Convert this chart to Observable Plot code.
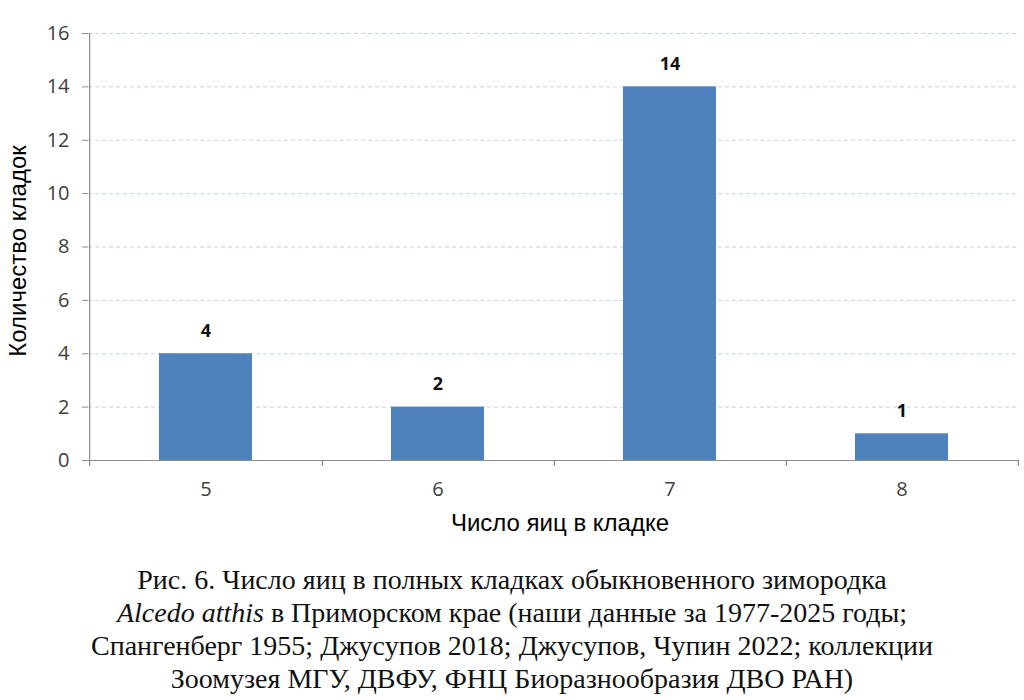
<!DOCTYPE html>
<html>
<head>
<meta charset="utf-8">
<script src="https://cdn.jsdelivr.net/npm/d3@7"></script>
<script src="https://cdn.jsdelivr.net/npm/@observablehq/plot@0.6"></script>
<style>
  body { margin: 0; background: #fff; }
  #chart svg { display: block; }
  #caption {
    font-family: "Liberation Serif", "DejaVu Serif", serif;
    font-size: 28px;
    line-height: 33px;
    text-align: center;
    color: #111;
    padding-top: 18px;
    width: 1024px;
  }
</style>
</head>
<body>
<div id="chart"></div>
<div id="caption">Рис. 6. Число яиц в полных кладках обыкновенного зимородка<br><i>Alcedo atthis</i> в Приморском крае (наши данные за 1977-2025 годы;<br>Спангенберг 1955; Джусупов 2018; Джусупов, Чупин 2022; коллекции<br>Зоомузея МГУ, ДВФУ, ФНЦ Биоразнообразия ДВО РАН)</div>
<script>
const categories = ["5", "6", "7", "8"];
const counts = [4, 2, 14, 1];
const yTicks = [0, 2, 4, 6, 8, 10, 12, 14, 16];
const xTitle = "Число яиц в кладке";
const yTitle = "Количество кладок";

const data = categories.map((c, i) => ({cat: c, n: counts[i]}));

const width = 1024, height = 545;
const marginLeft = 88, marginRight = 5, marginTop = 33, marginBottom = 85;
const step = (width - marginLeft - marginRight) / categories.length;
const axisColor = "#8c8c8c";

const chart = Plot.plot({
  width, height, marginLeft, marginRight, marginTop, marginBottom,
  style: {background: "#fff"},
  x: {domain: categories, paddingInner: 0.6, paddingOuter: 0.3, axis: null},
  y: {domain: [0, 16], axis: null},
  marks: [
    Plot.gridY(yTicks.filter(d => d > 0), {stroke: "#c5d3ea", strokeOpacity: 1, strokeDasharray: "4,3"}),
    Plot.barY(data, {x: "cat", y: "n", fill: "#4f81bd"}),
    Plot.ruleY([0], {stroke: axisColor, strokeWidth: 1.2}),
    Plot.ruleX([categories[0]], {x: d => d, dx: -step / 2, y1: 16, y2: 0, insetBottom: -6, stroke: axisColor, strokeWidth: 1.2}),
    Plot.ruleX(categories, {x: d => d, dx: step / 2, y1: 0, y2: 0, insetBottom: -6, stroke: axisColor, strokeWidth: 1.2}),
    Plot.axisY(yTicks, {anchor: "left", tickSize: 6, tickPadding: 13, stroke: axisColor, fill: "#404040", fontSize: 20, fontFamily: "Open Sans", label: null}),
    Plot.axisX(categories, {anchor: "bottom", tickSize: 0, tickPadding: 21, fill: "#404040", fontSize: 20, fontFamily: "Open Sans", label: null}),
    Plot.text(data, {x: "cat", y: "n", text: d => String(d.n), dy: -23, fontSize: 18, fontWeight: "bold", fontFamily: "Open Sans", fill: "#111"}),
    Plot.text([xTitle], {frameAnchor: "bottom", textAnchor: "middle", text: d => d, dx: 6, dy: 70, fontSize: 24, fontFamily: "Liberation Sans", fill: "#000"}),
    Plot.text([yTitle], {frameAnchor: "left", textAnchor: "middle", text: d => d, rotate: -90, dx: -70, dy: 4, fontSize: 24, fontFamily: "Liberation Sans", fill: "#000"})
  ]
});
document.getElementById("chart").appendChild(chart);
</script>
</body>
</html>
